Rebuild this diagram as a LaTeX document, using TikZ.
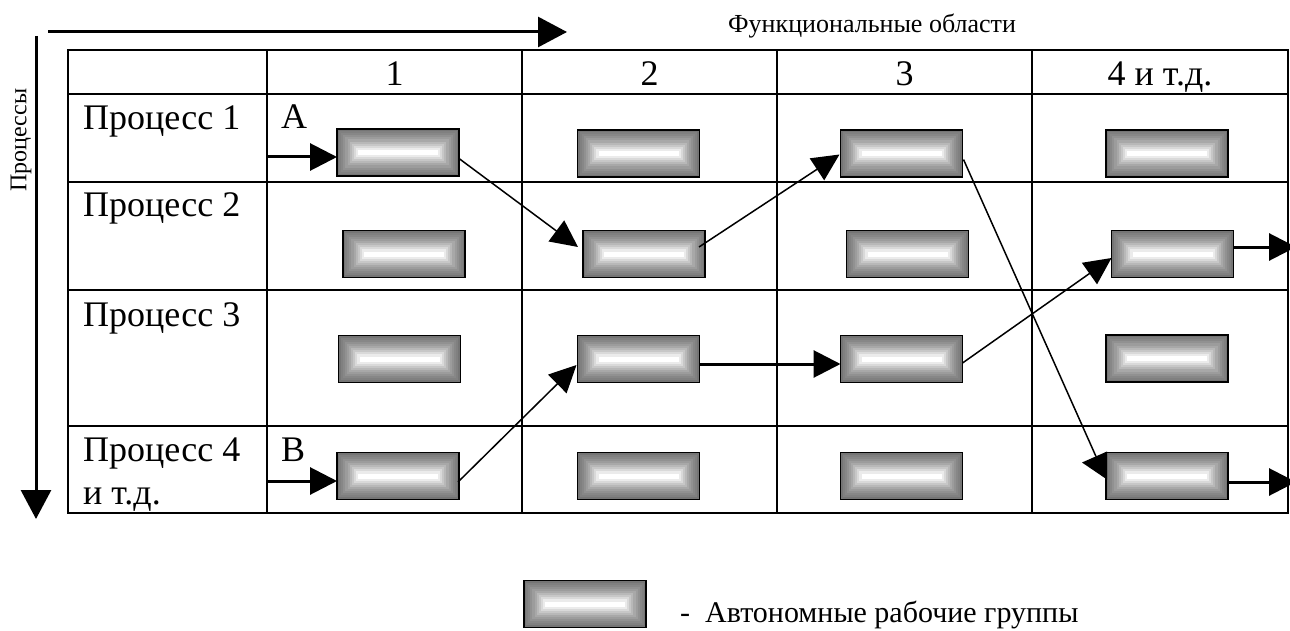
\documentclass[tikz,border=0pt]{standalone}
\usepackage{fontspec}
\setmainfont{Liberation Serif}
\usetikzlibrary{arrows.meta,calc}

\begin{document}
\begin{tikzpicture}[x=1pt,y=-1pt,
  grid/.style={line width=1.8pt},
  group/.style={draw=black, line width=1.3pt, minimum width=122pt,
    minimum height=47pt, inner sep=0pt, outer sep=0pt,
    path picture={
      \foreach \i/\c in {0/54,1/50,2/47,3/43,4/39,5/34,6/28,7/22,8/15,9/8,10/0}{
        \fill[black!\c]
          ($(path picture bounding box.south west)+(\i*2.1pt,\i*2.1pt)$)
          rectangle
          ($(path picture bounding box.north east)-(\i*2.1pt,\i*2.1pt)$);
      }}},
  big/.style={font=\fontsize{36}{42}\selectfont, inner sep=0pt},
  legendfont/.style={font=\fontsize{30}{36}\selectfont, inner sep=0pt},
  small/.style={font=\fontsize{26}{30}\selectfont, inner sep=0pt},
  flowbold/.style={line width=3pt, -{Triangle[length=27pt,width=27pt]}},
  flowthin/.style={line width=1.5pt, -{Triangle[length=27pt,width=26pt]}},
  axis/.style={line width=3pt, -{Triangle[length=29pt,width=30pt]}},
]
\useasboundingbox (0,0) rectangle (1290,631);

% axes
\coordinate (axO) at (48,32);
\coordinate (axE) at (567,32);
\coordinate (ayO) at (36,36);
\coordinate (ayE) at (36,519);
\draw[axis] (axO) -- (axE);
\draw[axis] (ayO) -- (ayE);
\node[small, anchor=base west] (fa) at (728,33) {Функциональные области};
\node[small, font=\fontsize{24}{28}\selectfont, rotate=90] (pr) at (21,140) {Процессы};

% table grid
\draw[grid] (68,50) rectangle (1288,513);
\foreach \y in {94,182,290,426} \draw[grid] (68,\y) -- (1288,\y);
\foreach \x in {267,522,777,1032} \draw[grid] (\x,50) -- (\x,513);

% header
\node[big, anchor=base] (h1) at (394.5,86) {1};
\node[big, anchor=base] (h2) at (649.5,86) {2};
\node[big, anchor=base] (h3) at (904.5,86) {3};
\node[big, anchor=base] (h4) at (1160,86) {4 и т.д.};

% row labels
\node[big, anchor=base west] (p1) at (83,130) {Процесс 1};
\node[big, anchor=base west] (p2) at (83,216) {Процесс 2};
\node[big, anchor=base west] (p3) at (83,326) {Процесс 3};
\node[big, anchor=base west] (p4) at (83,461) {Процесс 4};
\node[big, anchor=base west] (p4b) at (83,504) {и т.д.};
\node[big, anchor=base west] (lA) at (281,129) {A};
\node[big, anchor=base west] (lB) at (281,461) {B};

% autonomous groups
\node[group] (g11) at (398,152.5) {};
\node[group] (g21) at (404,254) {};
\node[group] (g31) at (399.5,359) {};
\node[group] (g41) at (398,476) {};
\node[group] (g12) at (638.5,153.5) {};
\node[group] (g22) at (644,254) {};
\node[group] (g32) at (638.5,359) {};
\node[group] (g42) at (638.5,476) {};
\node[group] (g13) at (901.5,153.5) {};
\node[group] (g23) at (907.5,254) {};
\node[group] (g33) at (901.5,359) {};
\node[group] (g43) at (901.5,476) {};
\node[group] (g14) at (1167,153.5) {};
\node[group] (g24) at (1172.5,254) {};
\node[group] (g34) at (1167,358.5) {};
\node[group] (g44) at (1167,476) {};

% flows
\coordinate (inA) at (267,157);
\coordinate (inB) at (267,481);
\coordinate (out2) at (1296,247);
\coordinate (out4) at (1296,482);
\draw[flowbold] (inA) -- (inA -| g11.west);
\draw[flowbold] (inB) -- (inB -| g41.west);
\draw[flowthin] ($(g11.east)+(0,6)$) -- ($(g22.west)+(-5,-7)$);
\draw[flowthin] ($(g22.east)+(-6,-7)$) -- ($(g13.west)+(-1,1)$);
\draw[flowthin] ($(g41.east)+(-1,6)$) -- ($(g32.west)+(-1,6)$);
\draw[flowbold] ($(g32.east)+(0,5)$) -- ($(g33.west)+(0,5)$);
\draw[flowthin] ($(g33.east)+(0,4)$) -- ($(g24.west)+(0,4)$);
\draw[flowbold] (g24.east |- out2) -- (out2);
\draw[flowbold] (g44.east |- out4) -- (out4);
% long flow into the last group, with its head set against the box
\draw[line width=1.5pt] ($(g13.east)+(1,6)$) -- ($(g44.north west)+(-10,4)$);
\fill ($(g44.north west)+(-24,10)$) -- ($(g44.north west)+(1,-1)$) -- ($(g44.north west)+(1,27)$) -- cycle;

% legend
\node[group] (leg) at (585,604) {};
\node[legendfont, anchor=base west] (legt) at (680,622) {-\hspace{0.5em}Автономные рабочие группы};
\end{tikzpicture}
\end{document}
